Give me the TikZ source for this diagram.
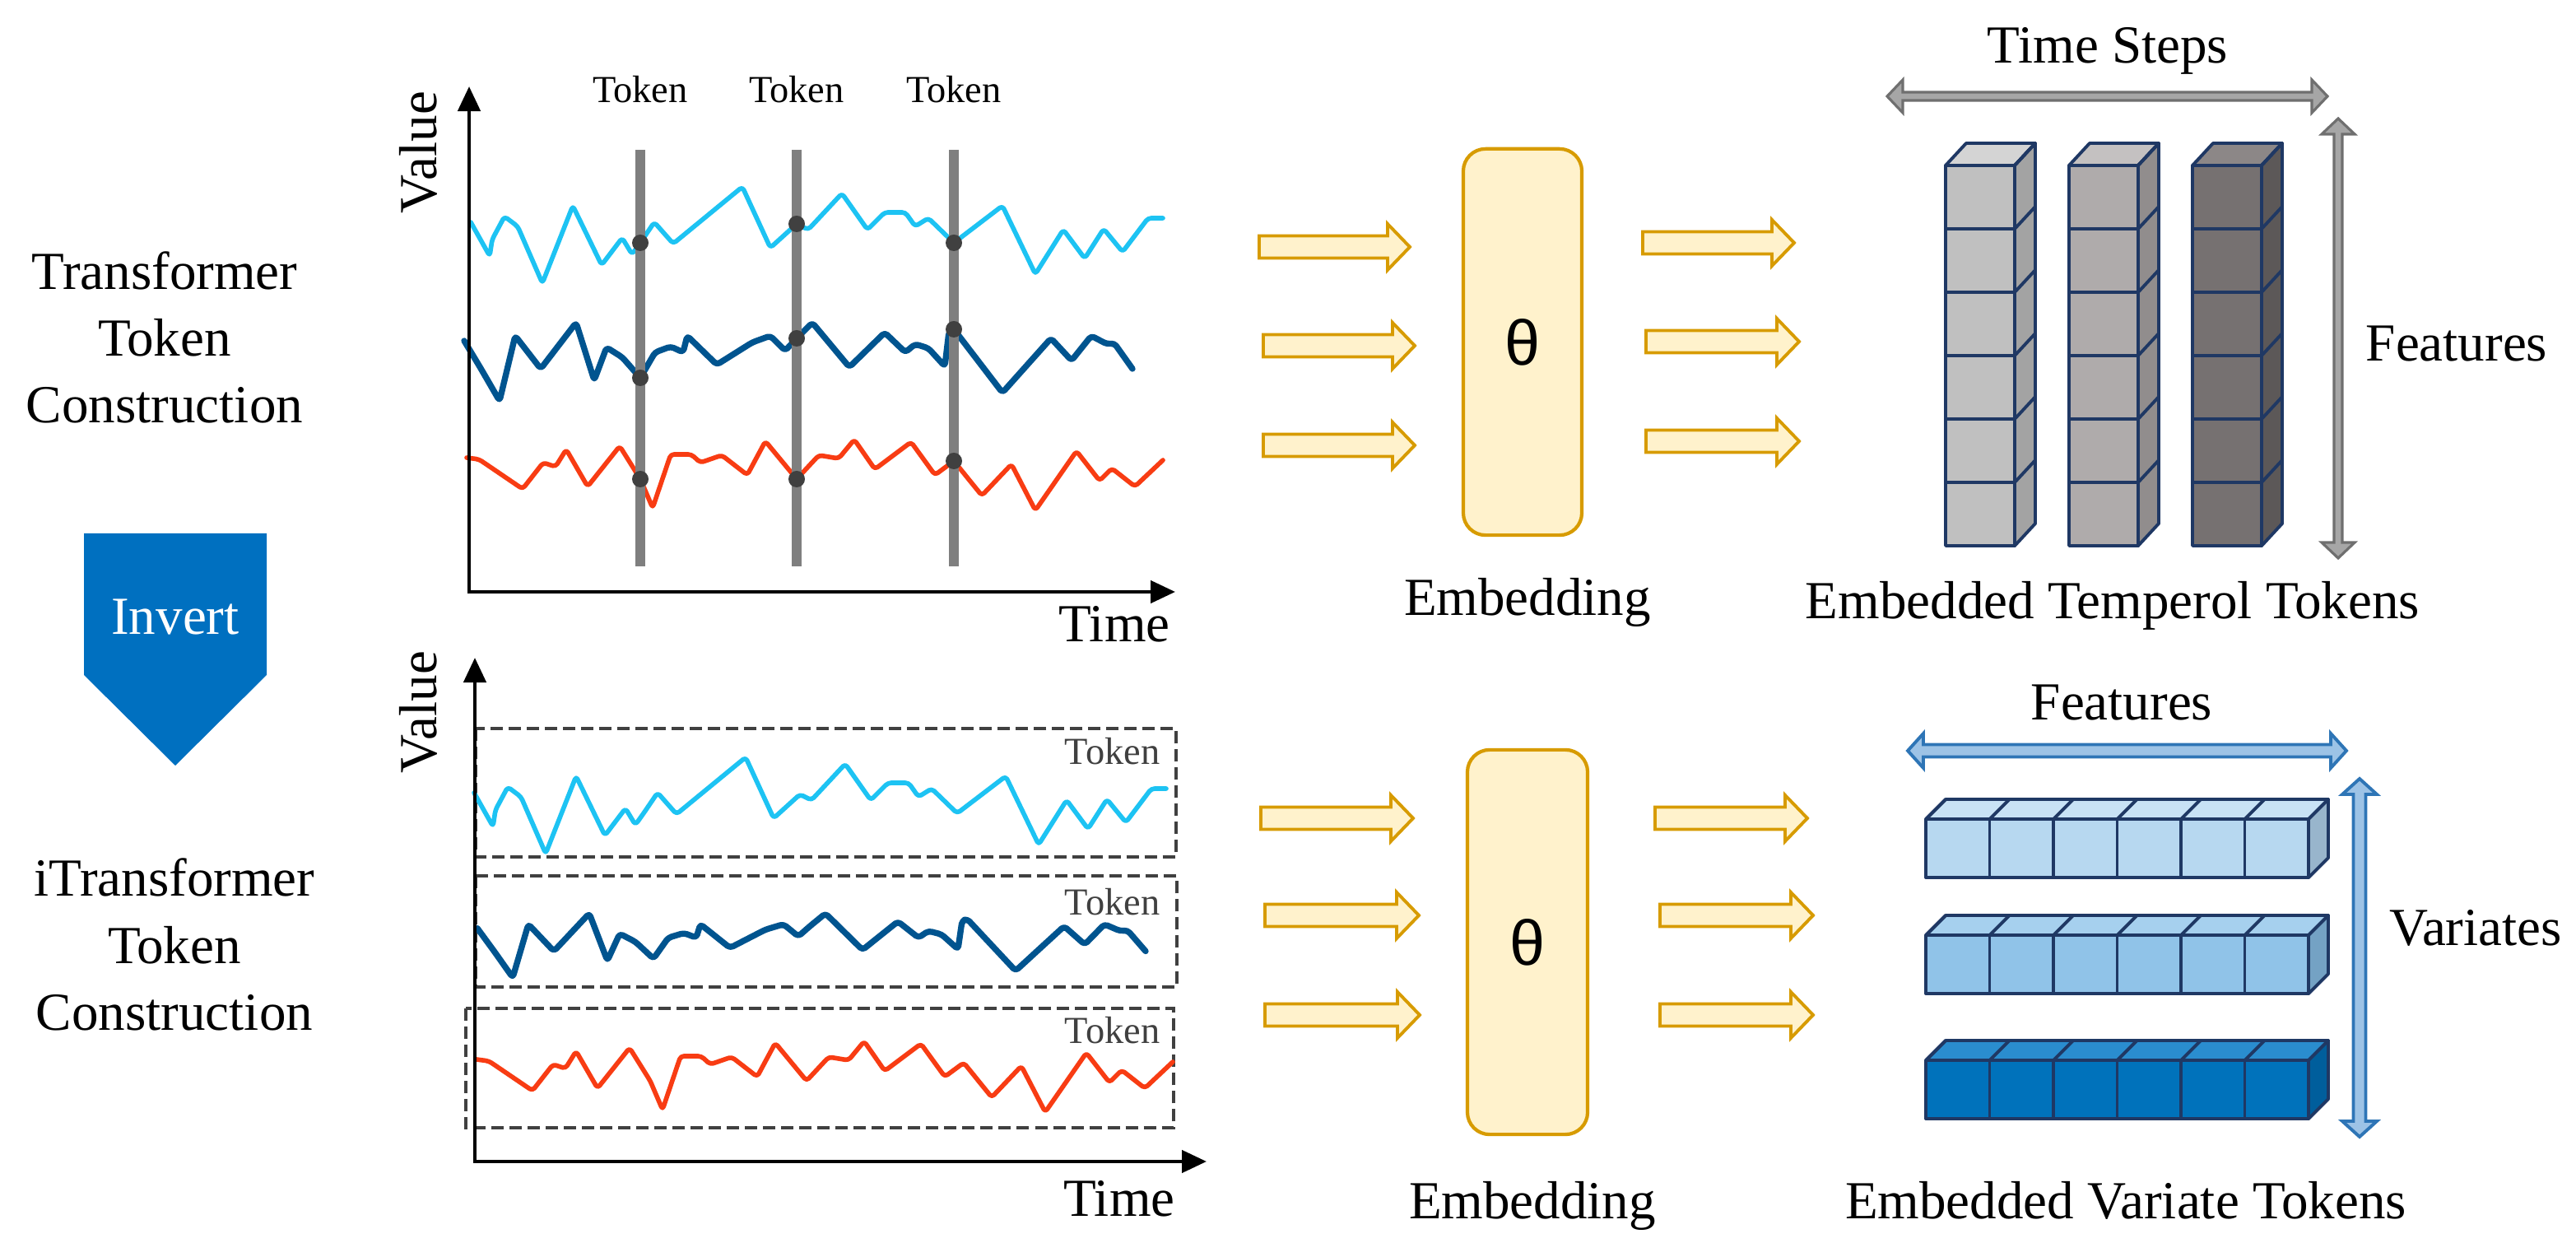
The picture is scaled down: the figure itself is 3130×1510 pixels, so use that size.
\documentclass[tikz,border=0pt]{standalone}
\usepackage{fontspec}
\setmainfont{Liberation Serif}
\newfontfamily\thetafont{Liberation Sans}
\usetikzlibrary{arrows.meta}
\definecolor{cyanc}{HTML}{1DC3F3}
\definecolor{bluec}{HTML}{00548F}
\definecolor{redc}{HTML}{F83C13}
\definecolor{barc}{HTML}{7F7F7F}
\definecolor{dotc}{HTML}{404040}
\definecolor{yfill}{HTML}{FFF2CC}
\definecolor{ydraw}{HTML}{D79B00}
\definecolor{navy}{HTML}{1F3864}
\definecolor{invc}{HTML}{0070C0}
\definecolor{gfill}{HTML}{A6A6A6}
\definecolor{gdraw}{HTML}{6F6F6F}
\definecolor{bfill}{HTML}{9DC3E6}
\definecolor{bdraw}{HTML}{2E75B6}
\definecolor{c1f}{HTML}{C0C0C0}\definecolor{c1t}{HTML}{D4D4D4}\definecolor{c1s}{HTML}{A3A3A3}
\definecolor{c2f}{HTML}{AFABAB}\definecolor{c2t}{HTML}{C4C1C1}\definecolor{c2s}{HTML}{918D8D}
\definecolor{c3f}{HTML}{767171}\definecolor{c3t}{HTML}{8C8787}\definecolor{c3s}{HTML}{5C5858}
\definecolor{s1f}{HTML}{B7D8F0}\definecolor{s1t}{HTML}{C8E2F5}\definecolor{s1s}{HTML}{98B5CC}
\definecolor{s2f}{HTML}{90C3E8}\definecolor{s2t}{HTML}{A6D0EE}\definecolor{s2s}{HTML}{74A2C4}
\definecolor{s3f}{HTML}{0072BB}\definecolor{s3t}{HTML}{2A8DCF}\definecolor{s3s}{HTML}{005E9C}

\tikzset{
 lbl/.style={font=\fontsize{18.5pt}{22pt}\selectfont, inner sep=0pt, anchor=base},
 tok/.style={font=\fontsize{13.2pt}{15pt}\selectfont, inner sep=0pt, anchor=base},
 axisl/.style={line width=1.3pt, {Triangle[length=0.3cm,width=0.27cm]}-{Triangle[length=0.3cm,width=0.27cm]}},
 cyanl/.style={draw=cyanc, line width=1.6pt, line join=round, line cap=round, rounded corners=0.04cm},
 bluel/.style={draw=bluec, line width=2.1pt, line join=round, line cap=round, rounded corners=0.04cm},
 redl/.style={draw=redc, line width=1.6pt, line join=round, line cap=round, rounded corners=0.04cm},
 tbar/.style={draw=barc, line width=3.4pt},
 tdot/.style={fill=dotc},
 tokbox/.style={draw=dotc, line width=0.9pt, dash pattern=on 0.15cm off 0.07cm},
 embbox/.style={draw=ydraw, fill=yfill, line width=1.2pt, rounded corners=0.27cm, inner sep=0pt, font=\thetafont\fontsize{22pt}{24pt}\selectfont},
 yarr/.style={draw=ydraw, fill=yfill, line width=1.1pt, line join=miter},
 cubee/.style={draw=navy, line width=1.1pt, line join=round},
 garr/.style={fill=gfill, draw=gdraw, line width=0.9pt},
 barr/.style={fill=bfill, draw=bdraw, line width=1.1pt},
}

\newcommand{\cyancurve}{\draw[cyanl] (572,270) -- (595,311) -- (598,291) -- (613,263) -- (629,275) -- (659,344) -- (696,250) -- (731,322) -- (756,289) -- (768,309) -- (778,295) -- (795,270) -- (818,296) -- (902,227) -- (936,301) -- (968,272) -- (982,279) -- (1023,235) -- (1054,279) -- (1075,258) -- (1100,258) -- (1112,275) -- (1128,265) -- (1159,295) -- (1218,250) -- (1258,333) -- (1292,279) -- (1318,314) -- (1341,278) -- (1364,306) -- (1395,265) -- (1413,265);}
\newcommand{\bluecurve}{\draw[bluel] (564,414) -- (585,449) -- (607,487) -- (626,408) -- (657,448) -- (700,392) -- (722,462) -- (737,422) -- (756,434) -- (778,459) -- (796,428) -- (815,421) -- (830,428) -- (835,408) -- (871,443) -- (914,416) -- (936,408) -- (954,426) -- (968,411) -- (987,392) -- (1032,446) -- (1075,404) -- (1100,428) -- (1112,418) -- (1128,423) -- (1148,445) -- (1153,403) -- (1159,400) -- (1218,477) -- (1277,411) -- (1302,438) -- (1326,408) -- (1345,418) -- (1354,417) -- (1376,448);}
\newcommand{\redcurve}{\draw[redl] (567,556) -- (582,558) -- (635,594) -- (660,562) -- (675,567) -- (688,546) -- (714,591) -- (753,542) -- (778,582) -- (793,617) -- (815,552) -- (840,552) -- (851,562) -- (877,553) -- (908,577) -- (930,536) -- (968,582) -- (995,553) -- (1019,557) -- (1038,534) -- (1063,570) -- (1107,537) -- (1136,577) -- (1159,560) -- (1193,602) -- (1229,564) -- (1258,620) -- (1308,548) -- (1336,584) -- (1351,569) -- (1379,591) -- (1413,559);}

\newcommand{\hdbl}[6]{\filldraw[#1] (#3,#2) -- (#3+19,#2-#6) -- (#3+19,#2-#5) -- (#4-19,#2-#5) -- (#4-19,#2-#6) -- (#4,#2) -- (#4-19,#2+#6) -- (#4-19,#2+#5) -- (#3+19,#2+#5) -- (#3+19,#2+#6) -- cycle;}
\newcommand{\vdbl}[6]{\filldraw[#1] (#2,#3) -- (#2+#6,#3+19) -- (#2+#5,#3+19) -- (#2+#5,#4-19) -- (#2+#6,#4-19) -- (#2,#4) -- (#2-#6,#4-19) -- (#2-#5,#4-19) -- (#2-#5,#3+19) -- (#2-#6,#3+19) -- cycle;}
\newcommand{\yarrow}[3]{\filldraw[yarr] (#1,#3-13.5) -- (#2-27,#3-13.5) -- (#2-27,#3-28) -- (#2,#3) -- (#2-27,#3+28) -- (#2-27,#3+13.5) -- (#1,#3+13.5) -- cycle;}
\newcommand{\vcolumn}[4]{%
 \filldraw[cubee, fill=#3] (#1,201) -- (#1+25,174) -- (#1+109,174) -- (#1+84,201) -- cycle;
 \filldraw[cubee, fill=#4] (#1+84,201) -- (#1+109,174) -- (#1+109,636) -- (#1+84,663) -- cycle;
 \foreach \k in {0,...,5}{\filldraw[cubee, fill=#2] (#1,201+77*\k) rectangle (#1+84,278+77*\k);
   \draw[cubee] (#1+84,201+77*\k) -- (#1+109,174+77*\k);}
}
\newcommand{\hstrip}[4]{%
 \filldraw[cubee, fill=#3] (2340,#1) -- (2364,#1-24) -- (2829,#1-24) -- (2805,#1) -- cycle;
 \filldraw[cubee, fill=#4] (2805,#1) -- (2829,#1-24) -- (2829,#1+47) -- (2805,#1+71) -- cycle;
 \foreach \k in {0,...,5}{\filldraw[cubee, fill=#2] (2340+77.5*\k,#1) rectangle (2417.5+77.5*\k,#1+71);
   \draw[cubee] (2340+77.5*\k,#1) -- (2364+77.5*\k,#1-24);}
}

\begin{document}
\begin{tikzpicture}[x=0.01cm, y=-0.01cm]
\useasboundingbox[fill=white] (0,0) rectangle (3130,1510);

% ---------- left labels ----------
\node[lbl] (tr1) at (200,352) {Transformer};
\node[lbl] (tr2) at (200,433) {Token};
\node[lbl] (tr3) at (200,514) {Construction};
\fill[invc] (102,648) -- (324,648) -- (324,820) -- (213,930) -- (102,820) -- cycle;
\node[lbl, text=white] (inv) at (213,771) {Invert};
\node[lbl] (it1) at (212,1089) {iTransformer};
\node[lbl] (it2) at (212,1170) {Token};
\node[lbl] (it3) at (212,1251) {Construction};

% ---------- top chart ----------
\coordinate (o1) at (570,719);
\coordinate (ytop1) at (570,105);
\coordinate (xend1) at (1428,719);
\cyancurve
\bluecurve
\redcurve
\foreach \bx/\nm in {778/b1,968/b2,1159/b3}{
  \coordinate (\nm t) at (\bx,182); \coordinate (\nm b) at (\bx,688);
  \draw[tbar] (\nm t) -- (\nm b);}
\foreach \p in {(778,295),(968,272),(1159,295),(778,459),(968,411),(1159,400),(778,582),(968,582),(1159,560)}
  \fill[tdot] \p circle[radius=0.1cm];
\draw[axisl] (ytop1) -- (o1) -- (xend1);
\node[lbl, rotate=90, anchor=center] (val1) at (508,185) {Value};
\node[lbl] (time1) at (1354,780) {Time};
\node[tok] (tk1) at (778,125) {Token};
\node[tok] (tk2) at (968,125) {Token};
\node[tok] (tk3) at (1159,125) {Token};

% ---------- bottom chart ----------
\coordinate (o2) at (577,1411);
\coordinate (ytop2) at (577,799);
\coordinate (xend2) at (1466,1411);
\draw[tokbox] (578,885) rectangle (1429,1041);
\draw[tokbox] (578,1064) rectangle (1430,1199);
\draw[tokbox] (566,1225) rectangle (1426,1370);
\begin{scope}[shift={(4,693)}]\cyancurve\end{scope}
\begin{scope}[shift={(16,1149)}, yscale=0.82, shift={(0,-440)}]\bluecurve\end{scope}
\begin{scope}[shift={(12,731)}]\redcurve\end{scope}
\draw[axisl] (ytop2) -- (o2) -- (xend2);
\node[lbl, rotate=90, anchor=center] (val2) at (508,865) {Value};
\node[lbl] (time2) at (1360,1477) {Time};
\node[tok, anchor=base east, text=dotc] (btk1) at (1410,929) {Token};
\node[tok, anchor=base east, text=dotc] (btk2) at (1410,1111) {Token};
\node[tok, anchor=base east, text=dotc] (btk3) at (1410,1267) {Token};

% ---------- embedding ----------
\node[embbox, minimum width=1.44cm, minimum height=4.69cm] (emb1) at (1850,415.5) {θ};
\node[embbox, minimum width=1.46cm, minimum height=4.67cm] (emb2) at (1856,1144.5) {θ};
\node[lbl] (embl1) at (1856,748) {Embedding};
\node[lbl] (embl2) at (1862,1480) {Embedding};
\yarrow{1530}{1713}{300}
\yarrow{1535}{1719}{420}
\yarrow{1535}{1719}{541}
\yarrow{1996}{2180}{295}
\yarrow{2000}{2186}{415}
\yarrow{2000}{2186}{536}
\yarrow{1532}{1717}{994}
\yarrow{1537}{1724}{1112}
\yarrow{1537}{1725}{1233}
\yarrow{2011}{2196}{994}
\yarrow{2017}{2203}{1112}
\yarrow{2017}{2203}{1233}

% ---------- temporal tokens ----------
\hdbl{garr}{117}{2293}{2828}{5}{20}
\vdbl{garr}{2841}{144}{678}{5}{20}
\vcolumn{2364}{c1f}{c1t}{c1s}
\vcolumn{2514}{c2f}{c2t}{c2s}
\vcolumn{2664}{c3f}{c3t}{c3s}
\node[lbl] (ts) at (2561,77) {Time Steps};
\node[lbl] (feat1) at (2985,439) {Features};
\node[lbl] (ett) at (2567,752) {Embedded Temperol Tokens};

% ---------- variate tokens ----------
\hdbl{barr}{912}{2318}{2851}{7.5}{21}
\vdbl{barr}{2867}{946}{1381}{7.5}{21}
\hstrip{995}{s1f}{s1t}{s1s}
\hstrip{1136}{s2f}{s2t}{s2s}
\hstrip{1288}{s3f}{s3t}{s3s}
\node[lbl] (feat2) at (2578,875) {Features};
\node[lbl] (var) at (3008,1149) {Variates};
\node[lbl] (evt) at (2583,1480) {Embedded Variate Tokens};
\end{tikzpicture}
\end{document}
